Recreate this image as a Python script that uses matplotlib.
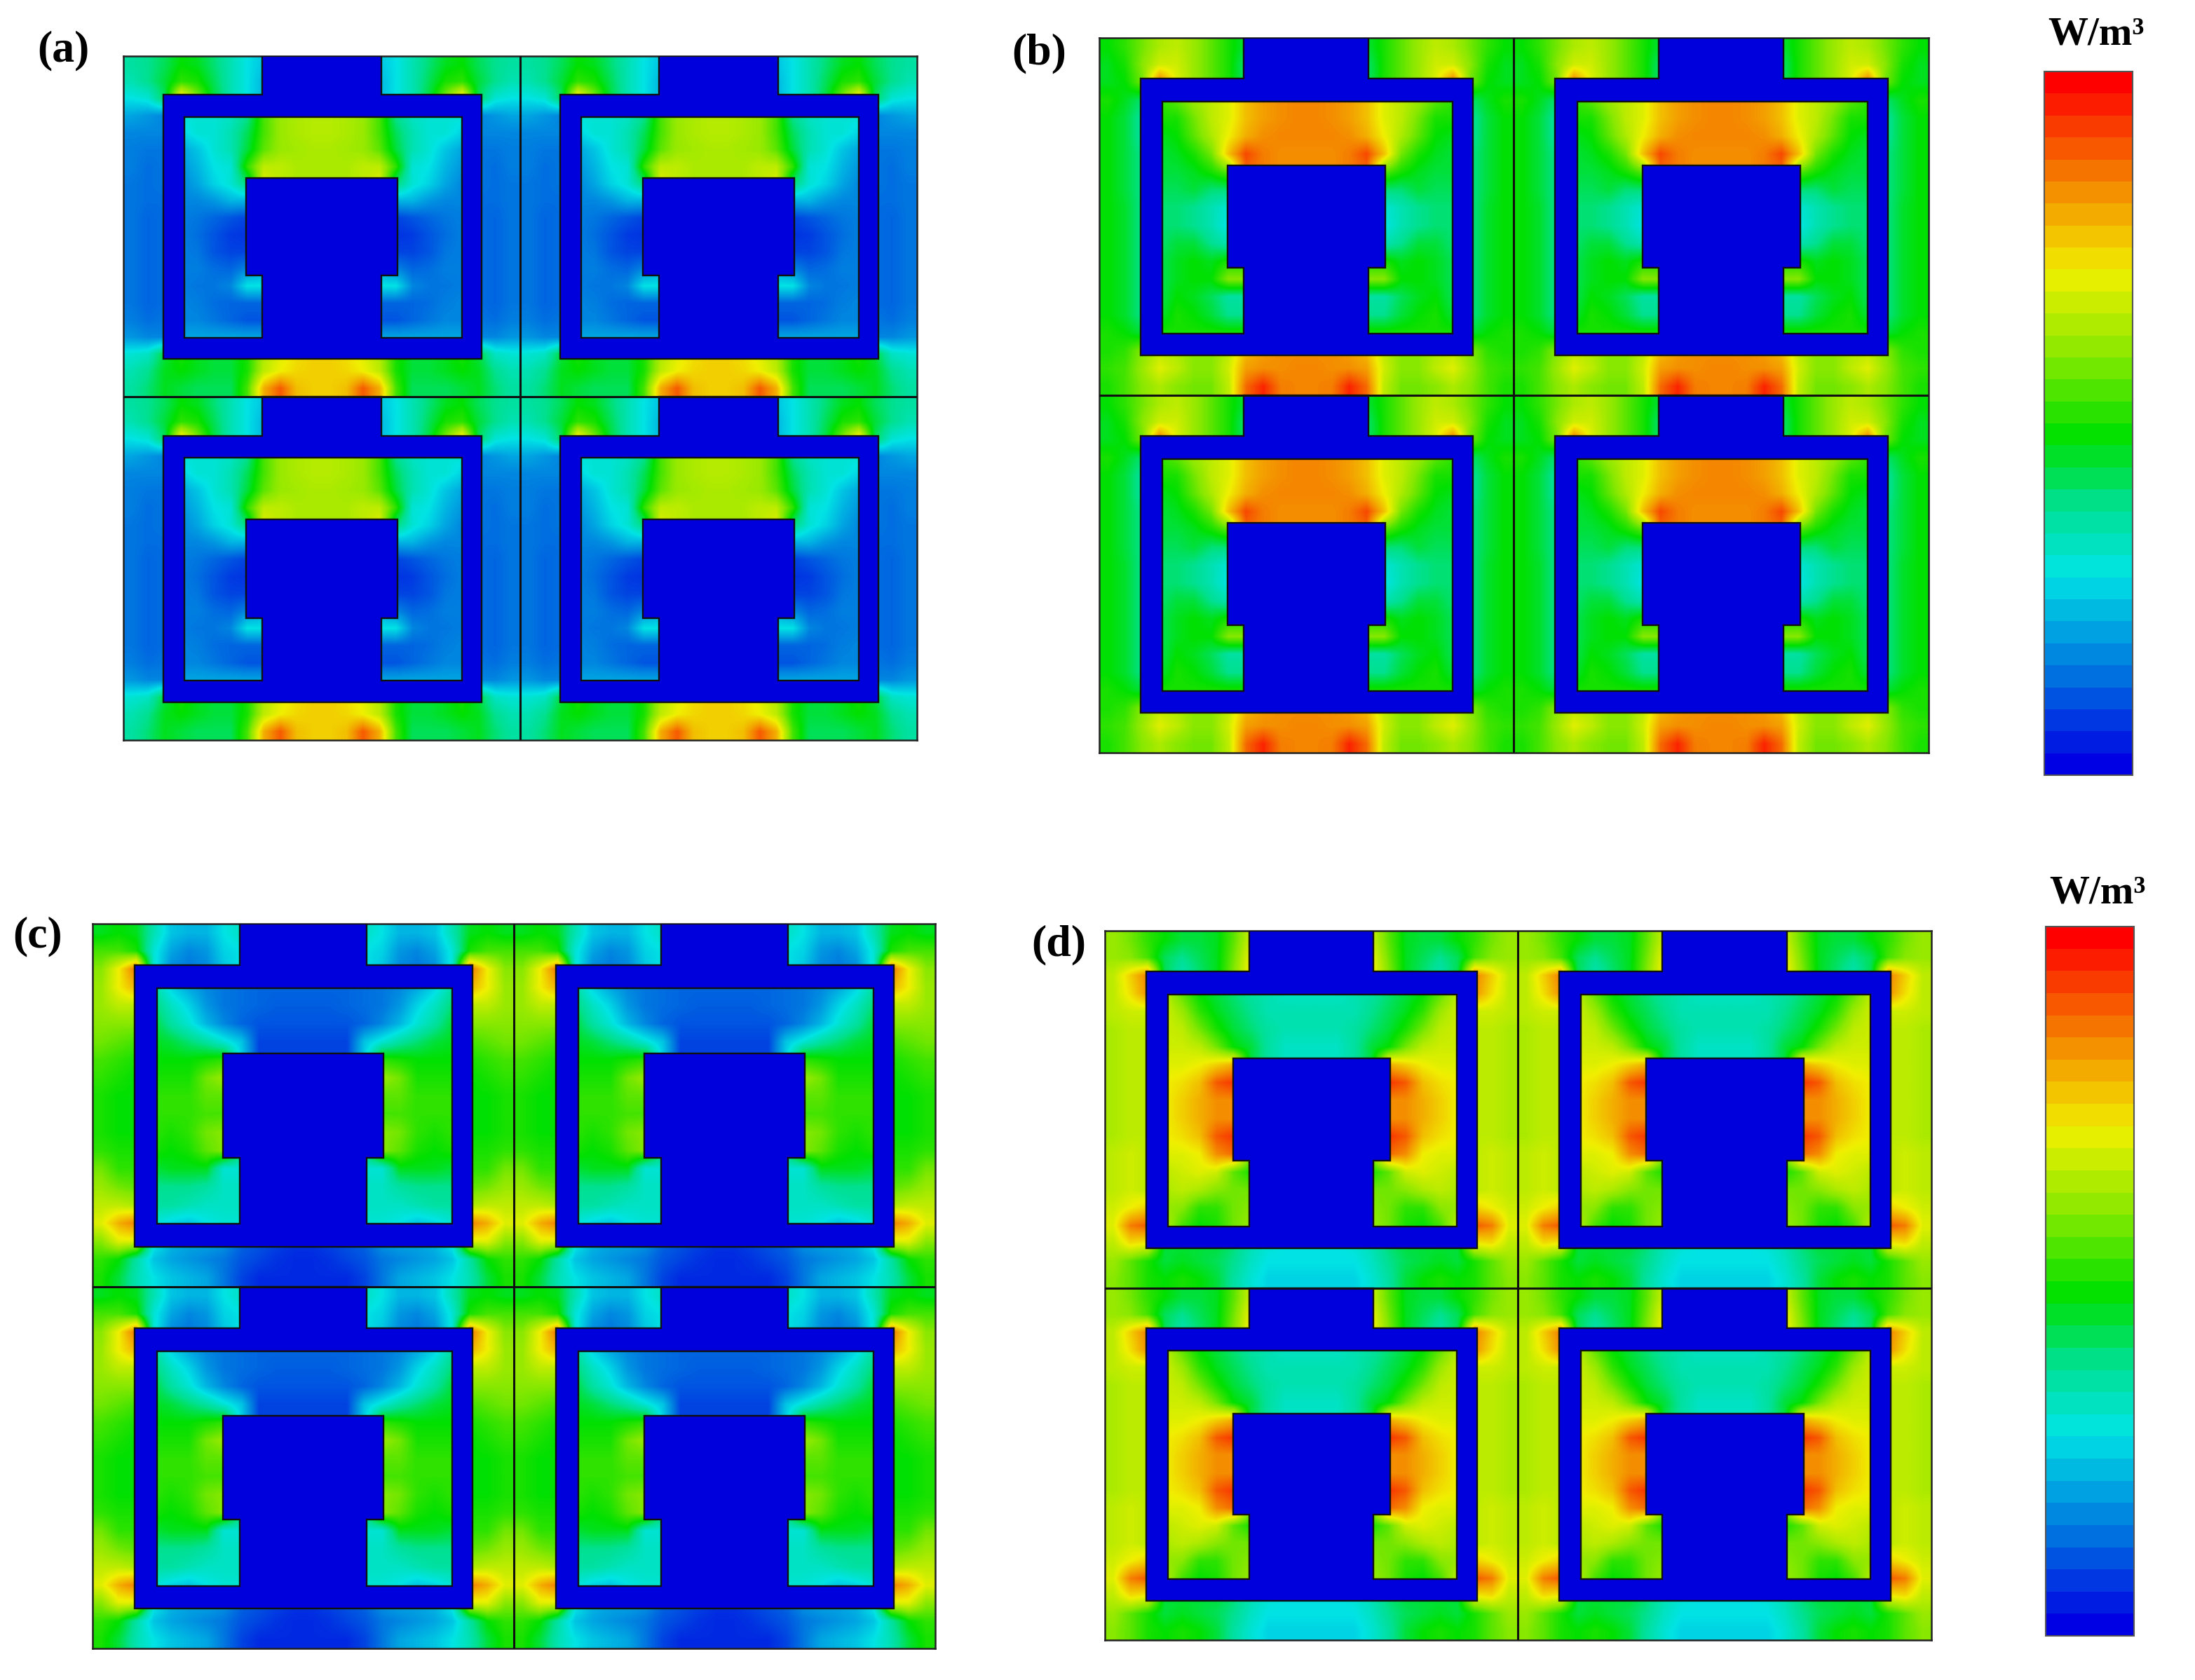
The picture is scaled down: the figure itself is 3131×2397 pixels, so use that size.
import numpy as np
import matplotlib
matplotlib.use("Agg")
import matplotlib.pyplot as plt
from matplotlib.colors import LinearSegmentedColormap, Normalize, BoundaryNorm
from matplotlib.cm import ScalarMappable
from matplotlib.path import Path
from matplotlib.patches import PathPatch

W, H = 3131, 2397

# Left half of one unit cell, 20 rows x 12 columns, percent of the colour scale
field_a = [
 [36,38,42,48,46,40,34,28,24,24,24,24],
 [34,38,44,52,50,42,34,28,22,22,22,22],
 [28,30,42,78,60,44,34,28,22,22,22,22],
 [20,18,16,30,30,30,32,38,54,62,64,65],
 [16,16,16,26,30,30,34,42,54,62,64,65],
 [15,14,14,20,24,30,34,44,56,62,63,64],
 [15,13,14,18,22,28,30,52,66,66,64,64],
 [14,13,14,16,20,26,30,40,70,66,64,64],
 [14,13,13,16,16,18,22,22,10,10,10,10],
 [14,12,13,15,14,12,10, 8,10,10,10,10],
 [14,12,13,15,13,10, 7, 6,10,10,10,10],
 [14,12,13,15,14,10, 8, 8,10,10,10,10],
 [14,12,13,15,15,13,12,16,20,10,10,10],
 [14,12,13,15,14,14,16,28,28,10,10,10],
 [14,12,13,16,15,13,12,12,12,10,10,10],
 [15,13,14,16,16,14,12,10,10,10,10,10],
 [18,16,16,20,20,20,20,20,20,10,10,10],
 [30,32,44,50,46,44,44,50,64,70,74,76],
 [34,38,46,48,46,44,44,50,66,72,75,76],
 [36,40,46,44,42,42,42,54,80,90,78,76],
]
field_b = [
 [48,52,58,64,66,62,56,50,44,44,44,44],
 [46,50,60,68,68,62,56,50,40,40,40,40],
 [46,48,58,88,70,62,56,50,40,40,40,40],
 [50,46,40,52,56,62,66,70,78,82,84,85],
 [48,44,36,50,50,58,66,70,78,82,84,85],
 [48,44,36,46,48,56,64,72,80,84,85,85],
 [48,44,38,44,46,50,58,78,92,86,84,84],
 [48,44,38,44,44,46,50,56,88,86,84,84],
 [48,44,38,42,42,44,40,40,30,30,30,30],
 [48,45,38,40,40,38,34,30,30,30,30,30],
 [48,45,38,40,40,38,34,28,30,30,30,30],
 [48,45,38,40,44,44,38,34,30,30,30,30],
 [48,45,38,42,46,48,46,50,50,30,30,30],
 [48,45,38,42,46,48,48,60,60,30,30,30],
 [48,45,38,42,48,46,42,36,36,30,30,30],
 [48,45,38,44,50,48,44,38,38,30,30,30],
 [50,48,44,50,50,50,50,50,50,30,30,30],
 [50,52,60,66,64,60,60,66,78,82,84,84],
 [52,54,62,70,66,60,60,68,82,84,84,85],
 [50,54,60,64,60,58,58,66,88,96,86,85],
]
field_c = [
 [46,48,46,34,24,22,22,28,32,32,32,32],
 [54,54,50,30,20,16,18,26,28,28,28,28],
 [60,72,88,30,16,14,16,24,28,28,28,28],
 [62,72,80,36,26,20,16,14,13,12,12,12],
 [62,66,66,40,32,26,18,14,13,12,11,11],
 [60,60,60,44,36,30,22,16,12,10,10,10],
 [58,56,54,46,44,40,36,30,24, 8, 8, 8],
 [54,52,50,48,48,48,50,52,26, 8, 8, 8],
 [52,50,48,50,50,50,58,62,50,50,50,50],
 [50,48,48,52,52,52,56,56,50,50,50,50],
 [50,48,48,52,52,52,54,54,50,50,50,50],
 [50,48,48,52,50,52,58,60,50,50,50,50],
 [52,50,50,50,48,50,56,60,40,40,40,40],
 [58,52,52,44,46,46,46,30,30,30,30,30],
 [62,58,56,38,38,38,36,32,32,32,32,32],
 [66,66,64,36,36,34,32,32,32,32,32,32],
 [70,80,86,30,26,24,28,30,30,30,30,30],
 [60,70,70,30,22,20,20,18,12,10, 8, 6],
 [52,48,36,24,20,18,16,14,10, 8, 6, 5],
 [50,44,34,28,24,22,20,14, 8, 5, 5, 5],
]
field_d = [
 [62,58,52,48,44,44,46,56,68,68,68,68],
 [62,60,54,42,38,42,46,58,72,72,72,72],
 [66,76,86,42,34,40,46,60,74,74,74,74],
 [66,74,84,66,56,48,44,40,36,34,32,32],
 [66,68,68,68,62,52,46,42,38,34,34,34],
 [64,66,66,68,66,58,50,44,40,36,34,34],
 [64,66,66,68,68,66,58,48,44,36,32,32],
 [64,66,66,70,70,72,76,80,44,36,32,32],
 [64,66,66,72,74,78,90,94,50,50,50,50],
 [64,66,66,72,76,80,84,84,50,50,50,50],
 [64,66,66,72,76,80,84,84,50,50,50,50],
 [64,66,66,72,74,78,90,94,50,50,50,50],
 [66,68,66,70,70,72,84,88,60,50,50,50],
 [66,68,66,66,68,70,68,56,50,50,50,50],
 [66,68,66,64,66,64,60,58,58,50,50,50],
 [68,72,76,62,60,52,52,58,60,50,50,50],
 [70,86,90,66,54,48,50,58,62,50,50,50],
 [66,74,72,44,44,44,44,40,34,30,28,28],
 [62,56,50,44,46,44,42,38,32,28,28,28],
 [60,56,50,48,50,48,44,36,30,26,26,26],
]
panel_names = ["(a)", "(b)", "(c)", "(d)"]
panel_fields = [field_a, field_b, field_c, field_d]
# left, right, top, bottom in reference pixels, then the x and y of the cell divide
panel_boxes = [(176,1308,80,1056,742,566), (1568,2751,54,1074,2159,564),
               (132,1334,1318,2352,733,1836), (1576,2755,1328,2340,2165,1838)]
label_xy = [(90,72), (1482,76), (54,1336), (1510,1348)]
bar_boxes = [(2916,3042,102,1106), (2918,3044,1322,2334)]
bar_label = "W/m³"
bar_label_xy = [(2990,50), (2992,1274)]

# Metal outline of one unit cell, fractions of the cell
outer_ring = [(.349,0),(.650,0),(.650,.114),(.902,.114),(.902,.889),(.100,.889),(.100,.114),(.349,.114)]
window = [(.153,.178),(.153,.827),(.349,.827),(.349,.644),(.310,.644),(.310,.357),(.691,.357),
          (.691,.644),(.650,.644),(.650,.827),(.853,.827),(.853,.178)]

stops = [(0,"#0000e4"),(.14,"#0078e0"),(.28,"#00e4e4"),(.38,"#00e090"),(.48,"#00e000"),
         (.60,"#88e800"),(.72,"#f0f000"),(.84,"#f49000"),(.93,"#f84000"),(1,"#ff0000")]
cmap = LinearSegmentedColormap.from_list("cst", stops, N=256)
metal = "#0000dc"
serif = "Liberation Serif"

fig = plt.figure(figsize=(W/100, H/100), dpi=100, facecolor="white")

def px_axes(l, r, t, b):
    return fig.add_axes([l/W, 1-b/H, (r-l)/W, (b-t)/H])

def cell_path():
    v = []; c = []
    for ring in (outer_ring, window):
        pts = list(ring)
        v += pts + [pts[0]]
        c += [Path.MOVETO] + [Path.LINETO]*(len(pts)-1) + [Path.CLOSEPOLY]
    return Path(v, c)

for name, fld, box, lab in zip(panel_names, panel_fields, panel_boxes, label_xy):
    l, r, t, b, mx, my = box
    ax = px_axes(l, r, t, b)
    half = np.array(fld, float)
    cell = np.hstack([half, half[:, ::-1]])
    fx, fy = (mx-l)/(r-l)*2, (my-t)/(b-t)*2
    xs = [(0, fx), (fx, 2)]; ys = [(0, fy), (fy, 2)]
    for (x0, x1) in xs:
        for (y0, y1) in ys:
            ax.imshow(cell, extent=(x0, x1, y1, y0), cmap=cmap, norm=Normalize(0, 100),
                      aspect="auto", interpolation="bilinear", interpolation_stage="data")
            p = cell_path()
            verts = p.vertices*[x1-x0, y1-y0] + [x0, y0]
            ax.add_patch(PathPatch(Path(verts, p.codes), fc=metal, ec="#101010", lw=1.7, zorder=3))
    ax.axvline(fx, color="#101010", lw=2.2, zorder=4)
    ax.axhline(fy, color="#101010", lw=2.2, zorder=4)
    ax.set_xlim(0, 2); ax.set_ylim(2, 0)
    ax.set_xticks([]); ax.set_yticks([])
    for s in ax.spines.values():
        s.set_color("#222222"); s.set_linewidth(1.8)
    fig.text(lab[0]/W, 1-lab[1]/H, name, family=serif, weight="bold", fontsize=46,
             ha="center", va="center", color="black")

bar_cmap = cmap.resampled(32)
for (l, r, t, b), (tx, ty) in zip(bar_boxes, bar_label_xy):
    cax = px_axes(l, r, t, b)
    sm = ScalarMappable(norm=BoundaryNorm(np.arange(33), 32), cmap=bar_cmap)
    cb = fig.colorbar(sm, cax=cax, orientation="vertical")
    cb.set_ticks([]); cb.minorticks_off()
    cb.outline.set_edgecolor("#555555"); cb.outline.set_linewidth(1.5)
    fig.text(tx/W, 1-ty/H, bar_label, family=serif, weight="bold", fontsize=41,
             ha="center", va="center", color="black")

fig.savefig("out.png", dpi=100, facecolor="white")
